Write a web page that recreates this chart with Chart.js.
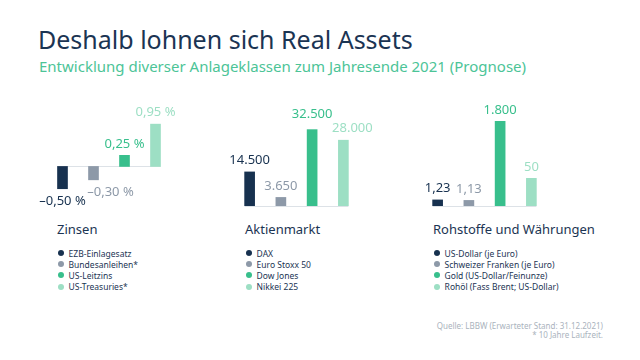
<!DOCTYPE html>
<html>
<head>
<meta charset="utf-8">
<script src="https://cdn.jsdelivr.net/npm/chart.js@4.4.1/dist/chart.umd.min.js"></script>
<style>
  body { margin: 0; width: 640px; height: 360px; background: #fff; position: relative; overflow: hidden; font-family: "Noto Sans", sans-serif; }
  #title { position: absolute; left: 38px; top: 24px; font-size: 25px; line-height: 30px; color: #1b3453; white-space: nowrap; }
  #subtitle { position: absolute; left: 39px; top: 57px; font-size: 15px; line-height: 18px; color: #4cc497; white-space: nowrap; }
  canvas { position: absolute; top: 90px; }
  .panel { position: absolute; top: 221px; }
  .panel h2 { margin: 0; font-weight: normal; font-size: 13px; line-height: 16px; color: #1b3453; white-space: nowrap; }
  .panel ul { list-style: none; margin: 0; padding: 0; position: absolute; top: 26.7px; left: 1px; }
  .panel li { display: flex; align-items: center; height: 11.1px; font-size: 8.5px; color: #1b3453; white-space: nowrap; }
  .panel li span { display: inline-block; width: 6px; height: 6px; border-radius: 50%; margin-right: 4.6px; }
  #source { position: absolute; right: 37px; top: 322px; font-size: 8px; line-height: 8.5px; color: #aab3bd; text-align: right; }
</style>
</head>
<body>
<div id="title">Deshalb lohnen sich Real Assets</div>
<div id="subtitle">Entwicklung diverser Anlageklassen zum Jahresende 2021 (Prognose)</div>

<canvas id="zinsen-chart" width="170" height="130" style="left:30px"></canvas>
<canvas id="aktien-chart" width="170" height="130" style="left:215px"></canvas>
<canvas id="rohstoffe-chart" width="170" height="130" style="left:400px"></canvas>

<div class="panel" style="left:57px"><h2>Zinsen</h2><ul id="zinsen-legend"></ul></div>
<div class="panel" style="left:245px"><h2>Aktienmarkt</h2><ul id="aktien-legend"></ul></div>
<div class="panel" style="left:433px"><h2>Rohstoffe und Währungen</h2><ul id="rohstoffe-legend"></ul></div>

<div id="source">Quelle: LBBW (Erwarteter Stand: 31.12.2021)<br>* 10 Jahre Laufzeit.</div>

<script>
// Daten je Anlageklasse
const zinsenLabels = ['EZB-Einlagesatz', 'Bundesanleihen*', 'US-Leitzins', 'US-Treasuries*'];
const zinsenValues = [-0.50, -0.30, 0.25, 0.95];

const aktienLabels = ['DAX', 'Euro Stoxx 50', 'Dow Jones', 'Nikkei 225'];
const aktienValues = [14500, 3650, 32500, 28000];

const rohstoffeLabels = ['US-Dollar (je Euro)', 'Schweizer Franken (je Euro)', 'Gold (US-Dollar/Feinunze)', 'Rohöl (Fass Brent; US-Dollar)'];
const rohstoffeValues = [1.23, 1.13, 1800, 50];
// Waehrungen, Gold und Oel haben jeweils eine eigene Skala
const rohstoffeAxes = ['fx', 'fx', 'gold', 'oil'];

const barColors = ['#17314f', '#8d99a8', '#38bf8c', '#9ddfc4'];

// deutsche Zahlenformatierung: 14.500 / 1,23 / –0,50 %
function formatValue(v, suffix) {
  const a = Math.abs(v);
  let s = Number.isInteger(a)
    ? String(a).replace(/\B(?=(\d{3})+(?!\d))/g, '.')
    : a.toFixed(2).replace('.', ',');
  return (v < 0 ? '\u2013' : '') + s + suffix;
}

// Nulllinie und Wertbeschriftungen
const valueLabels = {
  id: 'valueLabels',
  beforeDatasetsDraw(chart, args, opts) {
    const first = chart.getDatasetMeta(0).data[0];
    const n = chart.data.datasets.length;
    const last = chart.getDatasetMeta(n - 1).data[n - 1];
    const y0 = chart.scales[chart.data.datasets[0].yAxisID].getPixelForValue(0);
    const ctx = chart.ctx;
    ctx.save();
    ctx.strokeStyle = '#dde2e7';
    ctx.lineWidth = 1;
    ctx.beginPath();
    ctx.moveTo(first.x - first.width / 2, Math.round(y0) + 0.5);
    ctx.lineTo(last.x + last.width / 2, Math.round(y0) + 0.5);
    ctx.stroke();
    ctx.restore();
  },
  afterDatasetsDraw(chart, args, opts) {
    const ctx = chart.ctx;
    ctx.save();
    ctx.font = '13px "Noto Sans"';
    ctx.textAlign = 'center';
    ctx.textBaseline = 'middle';
    chart.data.datasets.forEach((ds, i) => {
      const v = ds.data[i];
      const bar = chart.getDatasetMeta(i).data[i];
      const nudge = (opts.nudge && opts.nudge[i]) || [0, 0];
      const y = v >= 0 ? bar.y - 11.5 : bar.y + 12.5;
      ctx.fillStyle = ds.backgroundColor;
      ctx.fillText(formatValue(v, opts.suffix || ''), bar.x + nudge[0], y + nudge[1]);
    });
    ctx.restore();
  }
};

function makeLegend(id, labels) {
  const ul = document.getElementById(id);
  labels.forEach((label, i) => {
    const li = document.createElement('li');
    li.innerHTML = '<span style="background:' + barColors[i] + '"></span>' + label;
    ul.appendChild(li);
  });
}

function makeChart(id, labels, values, axes, scales, padding, labelOpts) {
  const datasets = values.map((v, i) => ({
    label: labels[i],
    data: values.map((_, j) => (j === i ? v : null)),
    yAxisID: axes[i],
    backgroundColor: barColors[i],
    barThickness: 10,
    grouped: false
  }));
  return new Chart(document.getElementById(id), {
    type: 'bar',
    data: { labels: labels, datasets: datasets },
    options: {
      responsive: false,
      animation: false,
      devicePixelRatio: 1,
      layout: { padding: padding },
      scales: Object.assign({ x: { display: false } }, scales),
      plugins: {
        legend: { display: false },
        tooltip: { enabled: false },
        valueLabels: labelOpts
      }
    },
    plugins: [valueLabels]
  });
}

makeChart('zinsen-chart', zinsenLabels, zinsenValues, ['y', 'y', 'y', 'y'],
  { y: { display: false, min: -1, max: 1.2 } },
  { left: 17, right: 29, top: 23, bottom: 9 },
  { suffix: ' %', nudge: { 1: [17, 0] } });

makeChart('aktien-chart', aktienLabels, aktienValues, ['y', 'y', 'y', 'y'],
  { y: { display: false, min: 0, max: 40000 } },
  { left: 19, right: 26, top: 22, bottom: 14 },
  { nudge: { 2: [0, -4], 3: [9, 0] } });

makeChart('rohstoffe-chart', rohstoffeLabels, rohstoffeValues, rohstoffeAxes,
  {
    fx: { display: false, min: 0, max: 19 },
    gold: { display: false, min: 0, max: 2000 },
    oil: { display: false, min: 0, max: 170 }
  },
  { left: 22, right: 23, top: 22, bottom: 14 },
  {});

makeLegend('zinsen-legend', zinsenLabels);
makeLegend('aktien-legend', aktienLabels);
makeLegend('rohstoffe-legend', rohstoffeLabels);
</script>
</body>
</html>
